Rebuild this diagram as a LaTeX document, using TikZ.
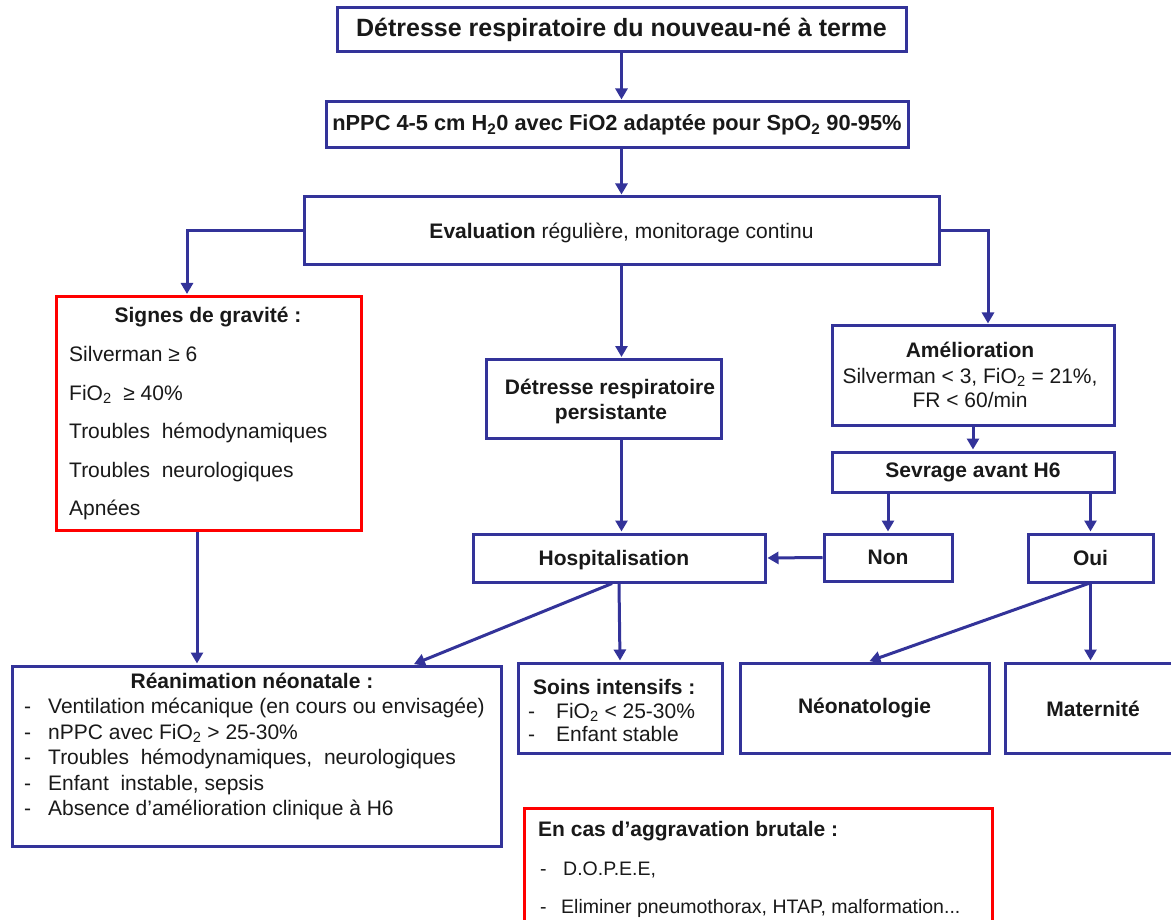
\documentclass[tikz,border=0pt]{standalone}
\usepackage{fontspec}
\setmainfont{Liberation Sans}
\usetikzlibrary{arrows.meta}
\definecolor{bl}{RGB}{51,51,153}
\definecolor{rd}{RGB}{255,0,0}
\definecolor{tc}{RGB}{25,25,25}
\begin{document}
\begin{tikzpicture}[x=1pt,y=-1pt,
  bx/.style={draw=bl,line width=3pt,fill=white,inner sep=0pt},
  rbx/.style={draw=rd,line width=3pt,fill=white,inner sep=0pt},
  arr/.style={draw=bl,line width=3pt,-{Triangle[length=11pt,width=12pt]},shorten >=1pt},
  tb/.style={font=\fontsize{21}{25}\selectfont\bfseries,text=tc,inner sep=0pt},
  tx/.style={font=\fontsize{21}{25}\selectfont,text=tc,inner sep=0pt},
  ts/.style={font=\fontsize{19.5}{23}\selectfont,text=tc,inner sep=0pt},
  lb/.style={anchor=base west},
  cb/.style={anchor=base},
]
\useasboundingbox (0,0) rectangle (1171,920);
\clip (0,0) rectangle (1171,920);

% boxes
\node[bx,minimum width=569pt,minimum height=44pt,font=\fontsize{25}{29}\selectfont\bfseries,text=tc] (title) at (621.5,30) {Détresse respiratoire du nouveau-né à terme};
\node[bx,minimum width=582pt,minimum height=46pt,font=\fontsize{21.8}{25}\selectfont\bfseries,text=tc] (nppc) at (617,125) {nPPC 4-5 cm H\textsubscript{2}0 avec FiO2 adaptée pour SpO\textsubscript{2} 90-95\%};
\node[bx,minimum width=635pt,minimum height=68pt] (eval) at (621.5,231) {};
\node[tx,cb] (evalt) at (621.5,239) {\textbf{Evaluation} régulière, monitorage continu};

\node[rbx,minimum width=305pt,minimum height=234pt] (signes) at (208.5,413.5) {};
\node[tb,cb] (sg0) at (208,323) {Signes de gravité :};
\node[tx,lb] (sg1) at (69,362) {Silverman ≥ 6};
\node[tx,lb] (sg2) at (69,400) {FiO\textsubscript{2}\ \ ≥ 40\%};
\node[tx,lb] (sg3) at (69,438) {Troubles\ \ hémodynamiques};
\node[tx,lb] (sg4) at (69,477) {Troubles\ \ neurologiques};
\node[tx,lb] (sg5) at (69,515) {Apnées};

\node[bx,minimum width=235pt,minimum height=79pt] (pers) at (603.5,399) {};
\node[tb,cb] (pe1) at (610,394) {Détresse respiratoire};
\node[tb,cb] (pe2) at (611,419) {persistante};

\node[bx,minimum width=282pt,minimum height=99pt] (amel) at (973,375.5) {};
\node[tb,cb] (am1) at (970,357) {Amélioration};
\node[tx,cb] (am2) at (970,383) {Silverman < 3, FiO\textsubscript{2} = 21\%,};
\node[tx,cb] (am3) at (970,407) {FR < 60/min};

\node[bx,minimum width=282pt,minimum height=40pt,tb] (sev) at (973,472) {Sevrage avant H6};
\node[bx,minimum width=128pt,minimum height=47pt,tb] (non) at (888,557.5) {Non};
\node[bx,minimum width=125pt,minimum height=48pt,tb] (oui) at (1090.5,558) {Oui};
\node[bx,minimum width=292pt,minimum height=48pt] (hosp) at (619,558) {};
\node[tb,cb] (hospt) at (614,565) {Hospitalisation};

\node[bx,minimum width=489pt,minimum height=180pt] (rea) at (256.5,756) {};
\node[tb,cb] (re0) at (252,688) {Réanimation néonatale :};
\node[tx,lb] (re1d) at (24,713) {-};
\node[tx,lb] (re1) at (48,713) {Ventilation mécanique (en cours ou envisagée)};
\node[tx,lb] (re2d) at (24,739) {-};
\node[tx,lb] (re2) at (48,739) {nPPC avec FiO\textsubscript{2} > 25-30\%};
\node[tx,lb] (re3d) at (24,764) {-};
\node[tx,lb] (re3) at (48,764) {Troubles\ \ hémodynamiques,\ \ neurologiques};
\node[tx,lb] (re4d) at (24,790) {-};
\node[tx,lb] (re4) at (48,790) {Enfant\ \ instable, sepsis};
\node[tx,lb] (re5d) at (24,815) {-};
\node[tx,lb] (re5) at (48,815) {Absence d’amélioration clinique à H6};

\node[bx,minimum width=204pt,minimum height=90pt] (soins) at (620,708) {};
\node[tb,lb] (so0) at (533,694) {Soins intensifs :};
\node[tx,lb] (so1d) at (528,718) {-};
\node[tx,lb] (so1) at (556,718) {FiO\textsubscript{2} < 25-30\%};
\node[tx,lb] (so2d) at (528,741) {-};
\node[tx,lb] (so2) at (556,741) {Enfant stable};

\node[bx,minimum width=249pt,minimum height=90pt,tb] (neo) at (864.5,708) {Néonatologie};
\node[bx,minimum width=180pt,minimum height=90pt] (mat) at (1095,708) {};
\node[tb,cb] (matt) at (1093,716) {Maternité};

\node[rbx,minimum width=468pt,minimum height=132pt] (encas) at (758,874) {};
\node[tb,lb] (ec0) at (538,836) {En cas d’aggravation brutale :};
\node[ts,lb] (ec1d) at (540,875) {-};
\node[ts,lb] (ec1) at (563,875) {D.O.P.E.E,};
\node[ts,lb] (ec2d) at (540,913) {-};
\node[ts,lb] (ec2) at (561,913) {Eliminer pneumothorax, HTAP, malformation...};

% connectors
\draw[arr] (title.south) -- (title.south |- nppc.north);
\draw[arr] (title.south |- nppc.south) -- (title.south |- eval.north);
\draw[arr] (eval.west) -| ([xshift=-21.5pt]signes.north);
\draw[arr] (eval.east) -| ([xshift=15pt]amel.north);
\draw[arr] (eval.south) -- (eval.south |- pers.north);
\draw[arr] (amel.south) -- (sev.north);
\draw[arr] (non.north |- sev.south) -- (non.north);
\draw[arr] (oui.north |- sev.south) -- (oui.north);
\draw[arr] (non.west) -- (hosp.east);
\draw[arr] (eval.south |- pers.south) -- (eval.south |- hosp.north);
\draw[arr] ([xshift=-11.5pt]signes.south) -- ([xshift=-11.5pt]signes.south |- rea.north);
\draw[arr] ([xshift=-7pt]hosp.south) -- ([xshift=156.5pt]rea.north);
\draw[arr] (hosp.south) -- (soins.north);
\draw[arr] ([xshift=-2pt]oui.south) -- ([xshift=4pt]neo.north);
\draw[arr] (oui.south) -- (oui.south |- mat.north);
\end{tikzpicture}
\end{document}
